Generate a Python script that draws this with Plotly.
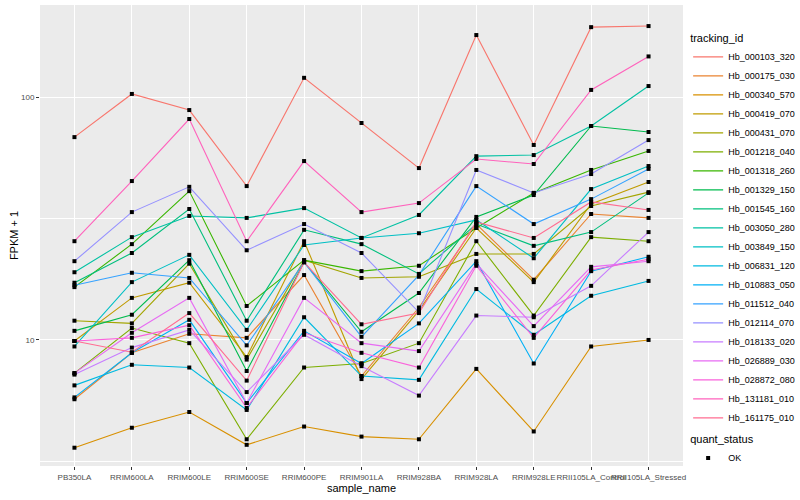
import plotly.graph_objects as go

samples = ["PB350LA", "RRIM600LA", "RRIM600LE", "RRIM600SE", "RRIM600PE", "RRIM901LA",
           "RRIM928BA", "RRIM928LA", "RRIM928LE", "RRII105LA_Control", "RRII105LA_Stressed"]

tracking_ids = ["Hb_000103_320", "Hb_000175_030", "Hb_000340_570", "Hb_000419_070", "Hb_000431_070",
                "Hb_001218_040", "Hb_001318_260", "Hb_001329_150", "Hb_001545_160", "Hb_003050_280",
                "Hb_003849_150", "Hb_006831_120", "Hb_010883_050", "Hb_011512_040", "Hb_012114_070",
                "Hb_018133_020", "Hb_026889_030", "Hb_028872_080", "Hb_131181_010", "Hb_161175_010"]

colors = ["#F8766D", "#EA8331", "#D89000", "#C09B00", "#A3A500", "#7CAE00", "#39B600", "#00BB4E",
          "#00BF7D", "#00C1A3", "#00BFC4", "#00BAE0", "#00B0F6", "#35A2FF", "#9590FF", "#C77CFF",
          "#E76BF3", "#FA62DB", "#FF62BC", "#FF6C91"]

Hb_000103_320 = [68.4, 103, 88.4, 43.0, 120, 78.2, 51.0, 180, 63.5, 194, 196]
Hb_000175_030 = [5.7, 8.85, 10.6, 10.2, 18.5, 7.1, 13.6, 30.0, 17.7, 33.0, 31.8]
Hb_000340_570 = [3.6, 4.35, 5.05, 3.7, 4.4, 4.0, 3.9, 7.6, 4.2, 9.4, 10.0]
Hb_000419_070 = [9.9, 14.9, 17.2, 8.5, 25.5, 6.9, 13.2, 28.9, 17.3, 36.3, 44.7]
Hb_000431_070 = [12.0, 11.7, 20.6, 8.3, 21.3, 18.0, 18.2, 22.6, 22.6, 35.6, 40.6]
Hb_001218_040 = [7.3, 11.2, 9.7, 3.9, 7.7, 8.0, 9.7, 25.5, 12.6, 26.5, 25.5]
Hb_001318_260 = [16.5, 24.8, 41.0, 13.8, 21.3, 19.2, 20.2, 28.9, 40.3, 50.1, 60.0]
Hb_001329_150 = [10.9, 12.7, 21.3, 7.45, 20.9, 10.8, 15.6, 32.1, 39.5, 76.0, 71.8]
Hb_001545_160 = [17.2, 22.8, 34.6, 12.0, 28.4, 24.8, 18.7, 30.0, 24.4, 27.8, 40.3]
Hb_003050_280 = [19.0, 26.5, 32.4, 31.8, 34.9, 26.3, 32.7, 57.1, 57.7, 76.0, 111]
Hb_003849_150 = [9.4, 17.3, 22.4, 11.0, 24.6, 26.3, 27.5, 31.2, 21.7, 41.8, 52.0]
Hb_006831_120 = [6.5, 7.9, 7.7, 5.15, 12.4, 7.1, 6.85, 16.2, 10.5, 15.2, 17.5]
Hb_010883_050 = [5.8, 8.85, 12.1, 5.5, 10.9, 8.0, 11.7, 21.1, 8.0, 19.2, 22.0]
Hb_011512_040 = [16.8, 18.9, 18.0, 9.5, 20.9, 10.3, 18.5, 43.0, 30.0, 38.0, 50.6]
Hb_012114_070 = [21.1, 33.6, 42.7, 23.4, 30.0, 22.8, 13.0, 50.1, 40.3, 48.2, 66.5]
Hb_018133_020 = [7.2, 9.3, 11.0, 6.1, 10.5, 7.8, 5.9, 12.6, 12.4, 16.7, 27.8]
Hb_026889_030 = [7.3, 10.7, 14.9, 5.5, 14.9, 9.7, 9.0, 20.6, 11.4, 20.0, 21.1]
Hb_028872_080 = [9.9, 10.2, 11.5, 5.25, 10.7, 8.85, 7.7, 20.2, 10.2, 19.4, 21.5]
Hb_131181_010 = [25.5, 45.1, 81.2, 25.5, 54.5, 33.6, 36.6, 55.6, 53.0, 107, 147]
Hb_161175_010 = [9.9, 8.9, 12.9, 6.8, 20.9, 11.6, 12.9, 30.6, 26.3, 37.0, 34.3]

series = [Hb_000103_320, Hb_000175_030, Hb_000340_570, Hb_000419_070, Hb_000431_070,
          Hb_001218_040, Hb_001318_260, Hb_001329_150, Hb_001545_160, Hb_003050_280,
          Hb_003849_150, Hb_006831_120, Hb_010883_050, Hb_011512_040, Hb_012114_070,
          Hb_018133_020, Hb_026889_030, Hb_028872_080, Hb_131181_010, Hb_161175_010]

quant_status = "OK"

FONT = "Liberation Sans"
fig = go.Figure()

for tid, col, vals in zip(tracking_ids, colors, series):
    fig.add_trace(go.Scatter(x=samples, y=vals, mode="lines", name=tid,
                             line=dict(color=col, width=1.1), legend="legend"))

all_x, all_y = [], []
for vals in series:
    all_x += samples
    all_y += vals
fig.add_trace(go.Scatter(x=all_x, y=all_y, mode="markers", name=quant_status,
                         marker=dict(symbol="square", size=4, color="black"),
                         legend="legend2"))

fig.update_layout(
    width=800, height=500,
    margin=dict(l=40, r=117, t=5, b=34, autoexpand=False),
    paper_bgcolor="white", plot_bgcolor="#EBEBEB",
    font=dict(family=FONT, color="black"),
    xaxis=dict(type="category", range=[-0.6, 10.6], showgrid=True, gridcolor="white", gridwidth=1.1,
               zeroline=False, showline=False, ticks="outside", ticklen=3, tickcolor="#333333",
               tickangle=0, tickfont=dict(size=8, color="#4D4D4D", family=FONT), automargin=False,
               title=dict(text="sample_name", font=dict(size=11, family=FONT), standoff=3)),
    yaxis=dict(type="log", range=[0.481, 2.379], tickvals=[10, 100], ticktext=["10", "100"],
               showgrid=True, gridcolor="white", gridwidth=1.1, zeroline=False, showline=False,
               ticks="outside", ticklen=3, tickcolor="#333333", automargin=False,
               tickfont=dict(size=8, color="#4D4D4D", family=FONT),
               minor=dict(tickmode="array", tickvals=[3.1623, 31.623], showgrid=True,
                          gridcolor="white", gridwidth=0.55, ticks=""),
               title=dict(text="FPKM + 1", font=dict(size=11, family=FONT), standoff=0)),
    legend=dict(title=dict(text="tracking_id", font=dict(size=11, family=FONT)),
                font=dict(size=9, family=FONT), x=1.008, xanchor="left", y=0.95, yanchor="top",
                bgcolor="rgba(0,0,0,0)", itemwidth=30),
    legend2=dict(title=dict(text="quant_status", font=dict(size=11, family=FONT)),
                 font=dict(size=9, family=FONT), x=1.008, xanchor="left", y=0.08, yanchor="top",
                 bgcolor="rgba(0,0,0,0)"),
)

fig.write_html("out.html", config={"displayModeBar": False},
               post_script="document.body.style.margin='0';document.body.style.overflow='hidden';")
